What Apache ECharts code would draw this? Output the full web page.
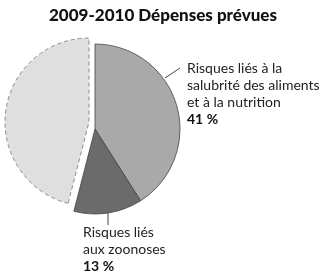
<!DOCTYPE html>
<html><head><meta charset="utf-8">
<script src="https://cdn.jsdelivr.net/npm/echarts@6/dist/echarts.min.js"></script>
<style>html,body{margin:0;padding:0;background:#fff}#c{width:326px;height:279px}</style>
</head><body><div id="c"></div>
<script>
var title = '2009-2010 Dépenses prévues';
var categories = ['Risques liés à la salubrité des aliments et à la nutrition', 'Risques liés aux zoonoses', 'Autres'];
var labelLines = [['Risques liés à la', 'salubrité des aliments', 'et à la nutrition'], ['Risques liés', 'aux zoonoses'], []];
var values = [41, 13, 46];
var colors = ['#a9a9a9', '#6b6b6b', '#dfdfdf'];

var FONT = 'Lato';
function fmt(i) {
  return labelLines[i].map(function (s) { return '{n|' + s + '}'; }).join('\n') + '\n{p|' + values[i] + ' %}';
}
var rich = {
  n: { fontFamily: FONT, fontSize: 14, color: '#222', lineHeight: 17 },
  p: { fontFamily: FONT, fontSize: 14, fontWeight: 'bold', color: '#111', lineHeight: 17 }
};
var labelPos = [
  { x: 187, y: 60, line: [[165, 78], [180, 68]] },
  { x: 83, y: 224, line: [[108, 213], [108, 225]] }
];

var main = values.map(function (v, i) {
  if (i === 2) return { value: v, name: categories[i], itemStyle: { color: 'rgba(0,0,0,0)', borderWidth: 0 }, label: { show: false }, labelLine: { show: false } };
  return { value: v, name: categories[i], itemStyle: { color: colors[i] } };
});
var expl = values.map(function (v, i) {
  if (i !== 2) return { value: v, name: categories[i], itemStyle: { color: 'rgba(0,0,0,0)', borderWidth: 0 } };
  return { value: v, name: categories[i], itemStyle: { color: colors[i], borderColor: '#8a8a8a', borderWidth: 1, borderType: [4, 3] } };
});

var chart = echarts.init(document.getElementById('c'), null, { renderer: 'canvas' });
chart.setOption({
  animation: false,
  title: { text: title, left: 'center', top: 2, textStyle: { fontFamily: FONT, fontSize: 17, fontWeight: 900, color: '#111' } },
  series: [
    {
      type: 'pie', center: [89, 122], radius: 84, startAngle: 90, clockwise: true, silent: true,
      label: { show: false }, labelLine: { show: false }, data: expl
    },
    {
      type: 'pie', center: [95, 129], radius: 85, startAngle: 90, clockwise: true, silent: true,
      itemStyle: { borderColor: '#444', borderWidth: 0.8 },
      label: { show: true, position: 'outside', overflow: 'none', edgeDistance: 0, formatter: function (p) { return fmt(p.dataIndex); }, rich: rich, align: 'left' },
      labelLine: { show: true, lineStyle: { color: '#444', width: 1 } },
      labelLayout: function (p) {
        var L = labelPos[p.dataIndex];
        if (!L) return {};
        return { x: L.x, y: L.y, align: 'left', verticalAlign: 'top', labelLinePoints: [L.line[0], L.line[1], L.line[1]] };
      },
      data: main
    }
  ]
});
</script></body></html>
